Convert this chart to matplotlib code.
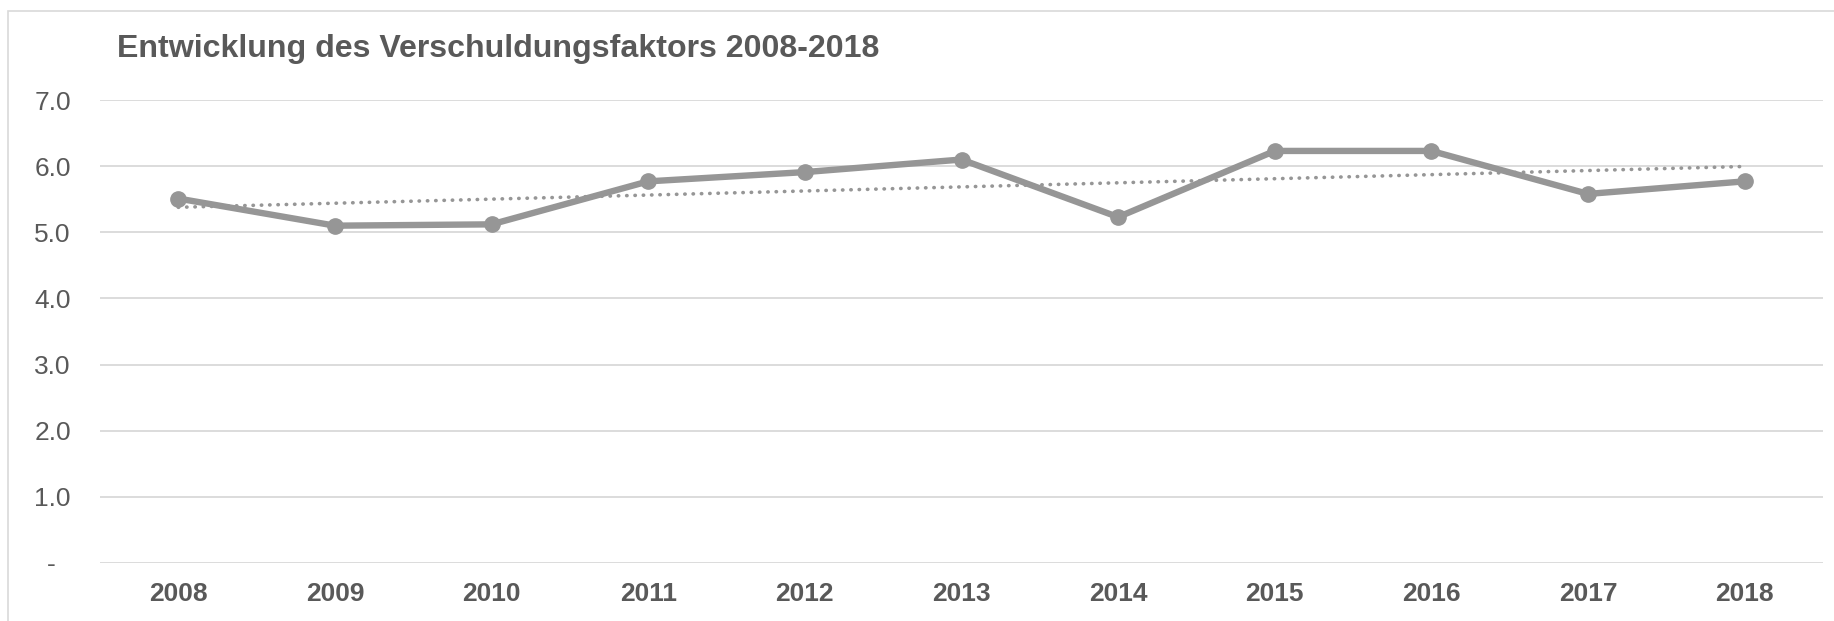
import matplotlib
matplotlib.use("Agg")
import matplotlib.pyplot as plt
from matplotlib.patches import Rectangle
from matplotlib.ticker import FuncFormatter
import numpy as np

# data
years = ["2008", "2009", "2010", "2011", "2012", "2013", "2014", "2015", "2016", "2017", "2018"]
faktor = [5.51, 5.10, 5.12, 5.77, 5.91, 6.10, 5.23, 6.23, 6.23, 5.58, 5.77]
y_ticks = [0, 1, 2, 3, 4, 5, 6, 7]
title = "Entwicklung des Verschuldungsfaktors 2008-2018"

line_col = "#969696"
text_col = "#595959"
grid_col = "#d9d9d9"

plt.rcParams["font.family"] = ["Liberation Sans", "DejaVu Sans"]

fig = plt.figure(figsize=(18.34, 6.21), dpi=100)
W, H = 1834, 621

# light frame round the chart area (left and top edges visible)
fig.patches.append(Rectangle((8 / W, -0.1), 1.2, 1 - 10.7 / H + 0.1,
                             transform=fig.transFigure, fill=False,
                             edgecolor=grid_col, lw=1.2))

ax = fig.add_axes([100 / W, (H - 563) / H, (1823 - 100) / W, (563 - 100) / H])

x = np.arange(len(years))
ax.plot(x, faktor, color=line_col, lw=4.6, marker="o", ms=11,
        solid_joinstyle="round", zorder=3)

# linear trend line (like the Excel trendline)
k, d = np.polyfit(x, faktor, 1)
ax.plot(x[[0, -1]], k * x[[0, -1]] + d, color=line_col, lw=2.6,
        linestyle=(0, (0.1, 2.2)), dash_capstyle="round", zorder=4)

ax.set_xlim(-0.5, len(years) - 0.5)
ax.set_ylim(0, 7)
ax.set_yticks(y_ticks)
ax.yaxis.set_major_formatter(FuncFormatter(lambda v, p: "-  " if v == 0 else f"{v:.1f}"))
ax.set_xticks(x)
ax.set_xticklabels(years, fontweight="bold")

ax.grid(axis="y", color=grid_col, lw=1.3, zorder=0)
ax.set_axisbelow(True)
for s in ax.spines.values():
    s.set_visible(False)

ax.tick_params(axis="y", length=0, pad=21, labelsize=19, labelcolor=text_col)
ax.tick_params(axis="x", length=0, pad=14, labelsize=19, labelcolor=text_col)

fig.text(117 / W, 1 - 49.5 / H, title, fontsize=23.1, fontweight="bold",
         color=text_col, ha="left", va="center")

fig.savefig("out.png", dpi=100)
